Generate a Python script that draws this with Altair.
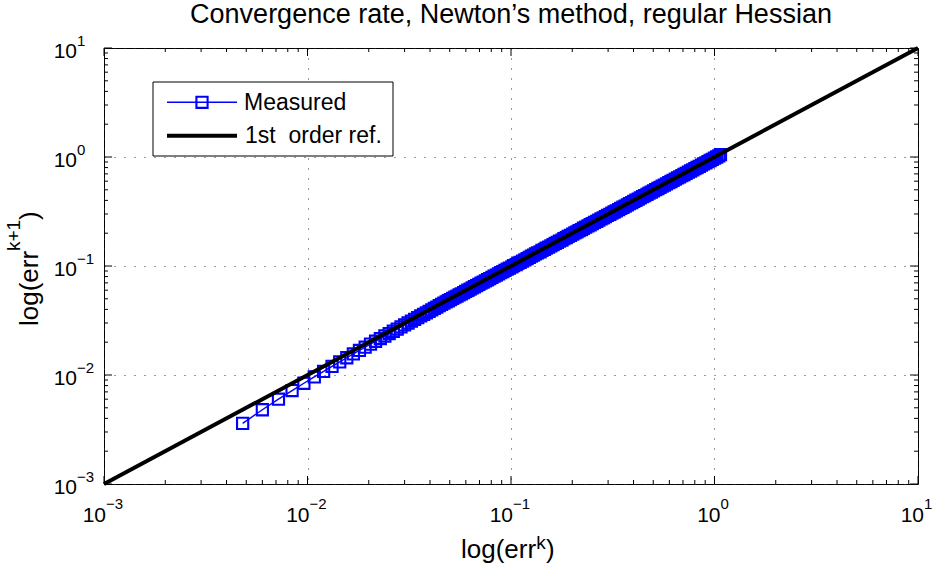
import altair as alt
import pandas as pd

# ---- data ----
# measured error iterates err^k (ascending order; dense part sub-sampled)
err_iterates = [
    0.0036, 0.0048, 0.0060, 0.0072, 0.0084, 0.0096, 0.0108, 0.0120, 0.0132, 0.0144,
    0.0156, 0.0168, 0.0180, 0.0192, 0.0204, 0.0216, 0.0228, 0.0240, 0.0252, 0.0264,
    0.0276, 0.0288, 0.0300, 0.0312, 0.0324, 0.0336, 0.0348, 0.0360, 0.0372, 0.0384,
    0.0396, 0.0408, 0.0420, 0.0432, 0.0444, 0.0456, 0.0468, 0.0480, 0.0492, 0.0504,
    0.0517, 0.0530, 0.0543, 0.0556, 0.0570, 0.0585, 0.0599, 0.0614, 0.0630, 0.0645,
    0.0661, 0.0678, 0.0695, 0.0712, 0.0730, 0.0748, 0.0767, 0.0786, 0.0806, 0.0826,
    0.0847, 0.0868, 0.0889, 0.0912, 0.0934, 0.0958, 0.0982, 0.101, 0.103, 0.106,
    0.108, 0.111, 0.114, 0.117, 0.120, 0.123, 0.126, 0.129, 0.132, 0.135,
    0.139, 0.142, 0.146, 0.149, 0.153, 0.157, 0.161, 0.165, 0.169, 0.173,
    0.178, 0.182, 0.187, 0.191, 0.196, 0.201, 0.206, 0.211, 0.216, 0.222,
    0.227, 0.233, 0.239, 0.245, 0.251, 0.257, 0.264, 0.270, 0.277, 0.284,
    0.291, 0.298, 0.306, 0.313, 0.321, 0.329, 0.338, 0.346, 0.355, 0.364,
    0.373, 0.382, 0.392, 0.401, 0.411, 0.422, 0.432, 0.443, 0.454, 0.466,
    0.477, 0.489, 0.501, 0.514, 0.527, 0.540, 0.553, 0.567, 0.581, 0.596,
    0.611, 0.626, 0.642, 0.658, 0.674, 0.691, 0.708, 0.726, 0.744, 0.763,
    0.782, 0.801, 0.821, 0.842, 0.863, 0.884, 0.907, 0.929, 0.952, 0.976,
    1.00, 1.025, 1.05, 1.07,
]
# where the overlapping markers merge into a solid band
solid_band_start = 0.042

ref_x = [1e-3, 1e1]
ref_y = [1e-3, 1e1]

decades = [1e-3, 1e-2, 1e-1, 1e0, 1e1]
decade_exps = ["\u22123", "\u22122", "\u22121", "0", "1"]
minor_mults = [2, 3, 4, 5, 6, 7, 8, 9]
minor_decades = [1e-3, 1e-2, 1e-1, 1e0]

title_text = "Convergence rate, Newton\u2019s method, regular Hessian"
legend_labels = ["Measured", "1st\u00a0\u00a0order ref."]

# ---- build tables ----
measured = pd.DataFrame({"x": err_iterates[1:], "y": err_iterates[:-1]})
band = measured[measured["x"] >= solid_band_start]
ref = pd.DataFrame({"x": ref_x, "y": ref_y})
major = pd.DataFrame({"v": decades, "base": ["10"] * len(decades), "exp": decade_exps})
minor = pd.DataFrame({"v": [m * d for d in minor_decades for m in minor_mults]})

W, H = 814, 436
FONT = "Liberation Sans"
BLUE = "#0000ff"

xs = alt.Scale(type="log", domain=[1e-3, 1e1], nice=False)
ys = alt.Scale(type="log", domain=[1e-3, 1e1], nice=False)
ax = alt.Axis(values=decades, grid=True, gridDash=[1, 9], gridColor="#333333",
              gridWidth=1, labels=False, ticks=False, domain=False, title=None)


def X(f):
    return alt.X(f, type="quantitative", scale=xs, axis=ax)


def Y(f):
    return alt.Y(f, type="quantitative", scale=ys, axis=ax)


one = pd.DataFrame({"t": [""]})

layers = []

# measured series
layers.append(alt.Chart(band).mark_line(color=BLUE, strokeWidth=12, strokeCap="butt")
              .encode(x=X("x"), y=Y("y")))
layers.append(alt.Chart(measured).mark_line(color=BLUE, strokeWidth=1.4).encode(x=X("x"), y=Y("y")))
layers.append(alt.Chart(measured).mark_point(shape="square", size=125, filled=False,
                                             color=BLUE, strokeWidth=2.1, opacity=1)
              .encode(x=X("x"), y=Y("y")))
# reference line
layers.append(alt.Chart(ref).mark_line(color="black", strokeWidth=4).encode(x=X("x"), y=Y("y")))

# ticks (inside, all four sides)
for df, L in ((major, 8), (minor, 4)):
    layers.append(alt.Chart(df).mark_rule(color="black", strokeWidth=1)
                  .encode(x=X("v"), y=alt.value(H), y2=alt.value(H - L)))
    layers.append(alt.Chart(df).mark_rule(color="black", strokeWidth=1)
                  .encode(x=X("v"), y=alt.value(0), y2=alt.value(L)))
    layers.append(alt.Chart(df).mark_rule(color="black", strokeWidth=1)
                  .encode(y=Y("v"), x=alt.value(0), x2=alt.value(L)))
    layers.append(alt.Chart(df).mark_rule(color="black", strokeWidth=1)
                  .encode(y=Y("v"), x=alt.value(W), x2=alt.value(W - L)))

# x tick labels
neg = major.iloc[:3]
pos = major.iloc[3:]
for df, d in ((neg, 2), (pos, 6)):
    layers.append(alt.Chart(df).mark_text(align="right", baseline="alphabetic", fontSize=21,
                                          font=FONT, color="black", dx=d)
                  .encode(x=X("v"), y=alt.value(473.5), text="base:N"))
    layers.append(alt.Chart(df).mark_text(align="left", baseline="alphabetic", fontSize=15,
                                          font=FONT, color="black", dx=d)
                  .encode(x=X("v"), y=alt.value(461), text="exp:N"))

# y tick labels
layers.append(alt.Chart(major).mark_text(align="right", baseline="alphabetic", fontSize=21,
                                         font=FONT, color="black", dy=10)
              .encode(y=Y("v"), x=alt.value(-27), text="base:N"))
layers.append(alt.Chart(major).mark_text(align="left", baseline="alphabetic", fontSize=15,
                                         font=FONT, color="black", dy=-2.5)
              .encode(y=Y("v"), x=alt.value(-27), text="exp:N"))


def txt(s, x, y, size, align="left", angle=0):
    kw = dict(align=align, baseline="alphabetic", fontSize=size, font=FONT, color="black")
    if angle:
        kw["angle"] = angle
    return alt.Chart(pd.DataFrame({"t": [s]})).mark_text(**kw).encode(
        x=alt.value(x), y=alt.value(y), text="t:N")


# title
layers.append(txt(title_text, W / 2, -25, 27, align="center"))
# x axis title: log(err^k)
layers.append(txt("log(err", 357, 510.3, 26))
layers.append(txt("k", 432.3, 501, 19))
layers.append(txt(")", 442, 510.3, 26))
# y axis title: log(err^{k+1})
layers.append(txt("log(err", -66, 278, 26, angle=270))
layers.append(txt("k+1", -84, 203, 19, angle=270))
layers.append(txt(")", -66, 172, 26, angle=270))

# legend
layers.append(alt.Chart(one).mark_rect(fill="white", stroke="black", strokeWidth=1)
              .encode(x=alt.value(49), x2=alt.value(289), y=alt.value(34), y2=alt.value(108)))
layers.append(alt.Chart(one).mark_rule(color=BLUE, strokeWidth=1.4)
              .encode(x=alt.value(63), x2=alt.value(133), y=alt.value(54.3)))
layers.append(alt.Chart(one).mark_point(shape="square", size=125, filled=False, color=BLUE,
                                        strokeWidth=2.1, opacity=1)
              .encode(x=alt.value(98), y=alt.value(54.3)))
layers.append(alt.Chart(one).mark_rule(color="black", strokeWidth=4)
              .encode(x=alt.value(63), x2=alt.value(133), y=alt.value(87.7)))
layers.append(txt(legend_labels[0], 140, 62, 23))
layers.append(txt(legend_labels[1], 141, 95, 23))

chart = alt.layer(*layers).properties(
    width=W, height=H,
    autosize=alt.AutoSizeParams(type="none"),
    padding={"left": 104, "top": 48, "right": 16, "bottom": 84},
    background="white",
).configure_view(stroke="black", strokeWidth=1)

chart.save("out.html", embed_options={"renderer": "svg", "actions": False})
